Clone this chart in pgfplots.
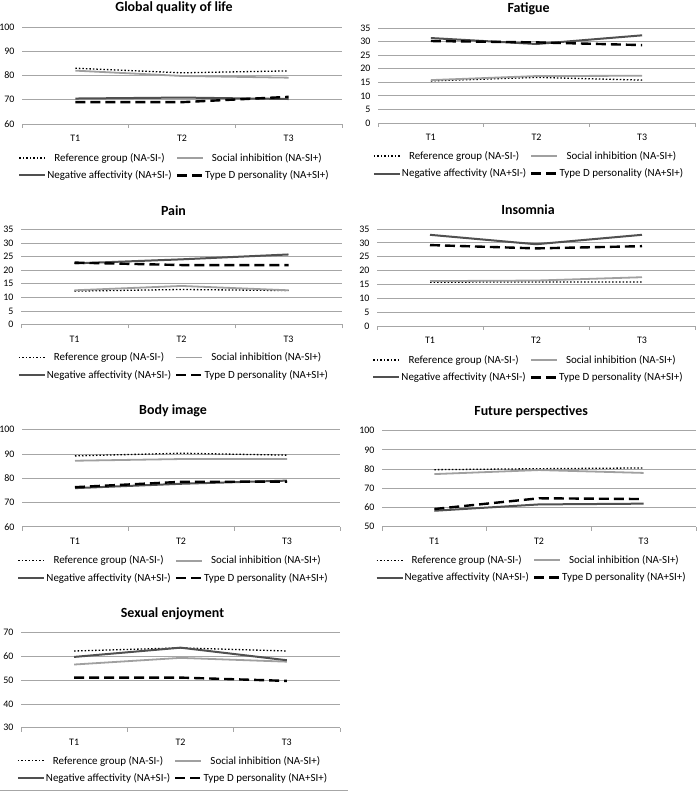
\documentclass[border=0pt]{standalone}
\usepackage{fontspec}
\setmainfont{Carlito}
\usepackage{pgfplots}
\pgfplotsset{compat=1.18}

\definecolor{gridc}{HTML}{A6A6A6}
\definecolor{socc}{HTML}{A0A0A0}
\definecolor{negc}{HTML}{505050}

\pgfplotsset{
  panel/.style={
    scale only axis, anchor=south west,
    xmin=0.5, xmax=3.5,
    xtick={1,2,3}, xticklabels={T1,T2,T3},
    minor xtick={0.5,1.5,2.5,3.5},
    tick align=outside,
    major tick length=0pt, minor tick length=4bp,
    minor tick style={gridc, line width=0.8bp},
    separate axis lines,
    axis x line*=bottom, axis y line*=left,
    x axis line style={gridc, line width=0.8bp},
    y axis line style={draw=none},
    ymajorgrids, grid style={gridc, line width=0.8bp},
    tick label style={font=\fontsize{10}{12}\selectfont},
    /pgf/number format/assume math mode=true,
    xticklabel style={yshift=-8bp},
    yticklabel style={xshift=-4bp},
    every axis title shift=0pt,
    title style={at={(0.475,1)}, anchor=center, yshift=19bp,
      font=\bfseries\fontsize{14}{16}\selectfont},
    legend columns=2,
    legend style={draw=none, fill=none, at={(0.475,-0.44)}, anchor=center,
      font=\fontsize{11}{12}\selectfont, row sep=6bp,
      nodes={inner sep=1bp},
      /tikz/every even column/.append style={column sep=3bp}},
    legend image code/.code={\draw[##1] (0bp,0bp) -- (26bp,0bp);},
  },
  refg/.style={black, line width=1.3bp, dash pattern=on 1.5bp off 2bp},
  soci/.style={socc, line width=1.8bp},
  nega/.style={negc, line width=2bp},
  typd/.style={black, line width=2.4bp, dash pattern=on 10bp off 5bp},
}
\newcommand\leg{\legend{Reference group (NA-SI-),Social inhibition (NA-SI+),Negative affectivity (NA+SI-),Type D personality (NA+SI+)}}

\begin{document}
\begin{tikzpicture}
\path[use as bounding box] (0,0) rectangle (700bp,793bp);

% Global quality of life
\begin{axis}[panel, at={(22bp,669bp)}, width=320bp, height=97bp,
  ymin=60, ymax=100, ytick={60,70,80,90,100}, title={Global quality of life}]
\addplot[refg] coordinates {(1,83) (2,81.1) (3,81.9)};
\addplot[soci] coordinates {(1,82) (2,79.8) (3,79.1)};
\addplot[nega] coordinates {(1,70.5) (2,70.9) (3,70.3)};
\addplot[typd] coordinates {(1,69) (2,69) (3,71.2)};
\leg
\end{axis}

% Fatigue
\begin{axis}[panel, at={(378bp,670bp)}, width=317bp, height=95bp,
  ymin=0, ymax=35, ytick={0,5,...,35}, title={Fatigue}]
\addplot[refg] coordinates {(1,15.5) (2,16.8) (3,15.8)};
\addplot[soci] coordinates {(1,15.8) (2,17.3) (3,17.4)};
\addplot[nega] coordinates {(1,31.3) (2,29.1) (3,32.3)};
\addplot[typd] coordinates {(1,30.2) (2,29.7) (3,28.7)};
\leg
\end{axis}

% Pain
\begin{axis}[panel, at={(21bp,468.5bp)}, width=321bp, height=95bp,
  ymin=0, ymax=35, ytick={0,5,...,35}, title={Pain}]
\addplot[refg] coordinates {(1,12.3) (2,12.9) (3,12.5)};
\addplot[soci] coordinates {(1,12.6) (2,14.2) (3,12.6)};
\addplot[nega] coordinates {(1,22.5) (2,24) (3,25.8)};
\addplot[typd] coordinates {(1,22.8) (2,21.9) (3,21.9)};
\leg
\end{axis}

% Insomnia
\begin{axis}[panel, at={(377bp,467bp)}, width=318bp, height=97bp,
  ymin=0, ymax=35, ytick={0,5,...,35}, title={Insomnia}]
\addplot[refg] coordinates {(1,15.8) (2,15.9) (3,15.9)};
\addplot[soci] coordinates {(1,16.2) (2,16.4) (3,17.6)};
\addplot[nega] coordinates {(1,32.9) (2,29.5) (3,32.9)};
\addplot[typd] coordinates {(1,29.2) (2,28) (3,28.8)};
\leg
\end{axis}

% Body image
\begin{axis}[panel, at={(22bp,266.3bp)}, width=318bp, height=97bp,
  ymin=60, ymax=100, ytick={60,70,80,90,100}, title={Body image}]
\addplot[refg] coordinates {(1,89.2) (2,90.3) (3,89.5)};
\addplot[soci] coordinates {(1,87.2) (2,87.9) (3,87.9)};
\addplot[nega] coordinates {(1,75.9) (2,77.7) (3,79)};
\addplot[typd] coordinates {(1,76.3) (2,78.5) (3,78.6)};
\leg
\end{axis}

% Future perspectives
\begin{axis}[panel, at={(382bp,266.3bp)}, width=314bp, height=96bp,
  ymin=50, ymax=100, ytick={50,60,...,100}, title={Future perspectives}]
\addplot[refg] coordinates {(1,79.7) (2,80.2) (3,80.6)};
\addplot[soci] coordinates {(1,77.4) (2,79.5) (3,78)};
\addplot[nega] coordinates {(1,58.3) (2,61.6) (3,62)};
\addplot[typd] coordinates {(1,59.2) (2,64.8) (3,64.4)};
\leg
\end{axis}

% Sexual enjoyment
\begin{axis}[panel, at={(21bp,65.3bp)}, width=319bp, height=95bp,
  ymin=30, ymax=70, ytick={30,40,...,70}, title={Sexual enjoyment}]
\addplot[refg] coordinates {(1,62.3) (2,63.6) (3,62.3)};
\addplot[soci] coordinates {(1,56.6) (2,59.4) (3,57.8)};
\addplot[nega] coordinates {(1,59.8) (2,63.7) (3,58.4)};
\addplot[typd] coordinates {(1,51.1) (2,51.1) (3,49.7)};
\leg
\end{axis}

\draw[gridc, line width=1bp] (0bp,2bp) -- (348bp,2bp);
\end{tikzpicture}
\end{document}
